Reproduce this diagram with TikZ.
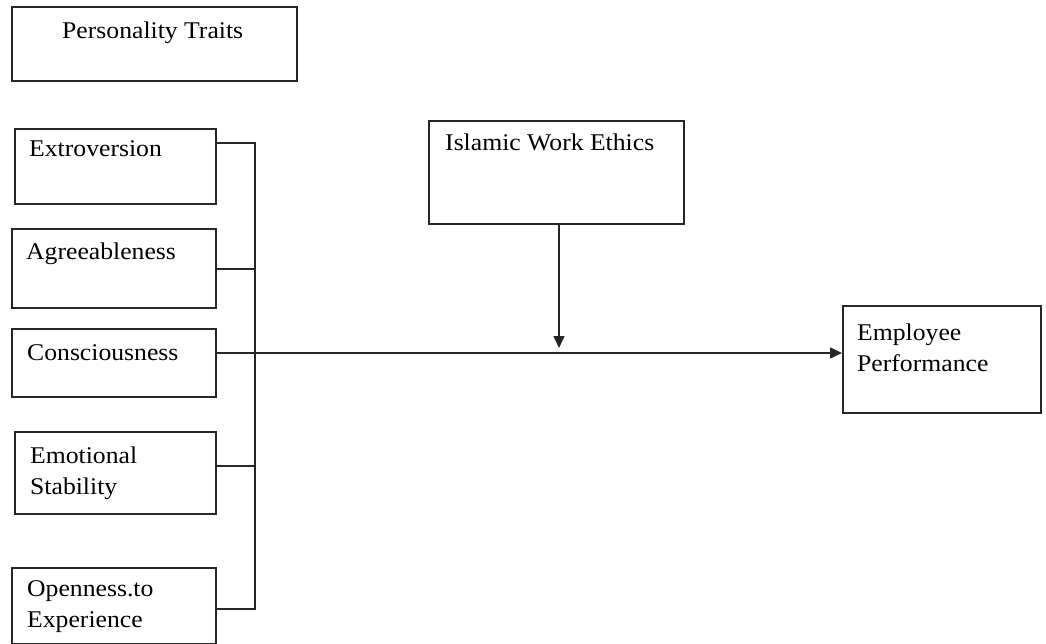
\documentclass[tikz,border=0pt]{standalone}
\usepackage{fontspec}
\setmainfont{Liberation Serif}[FakeStretch=1.07]
\usetikzlibrary{arrows.meta}
\begin{document}
\begin{tikzpicture}[x=1pt,y=-1pt,
  box/.style={draw=black!85,line width=1.6pt,rectangle,inner sep=0pt},
  lbl/.style={anchor=base west,inner sep=0pt,align=left,font=\fontsize{24}{31}\selectfont},
  wire/.style={draw=black!85,line width=1.5pt},
  arr/.style={wire,-{Triangle[length=12pt,width=11pt]}}]
\useasboundingbox (0,0) rectangle (1046,644);
% boxes
\node[box,minimum width=285pt,minimum height=74pt,anchor=north west] (pt) at (11,6) {};
\node[box,minimum width=201pt,minimum height=75pt,anchor=north west] (ex) at (14,128) {};
\node[box,minimum width=204pt,minimum height=79pt,anchor=north west] (ag) at (11,228) {};
\node[box,minimum width=204pt,minimum height=68pt,anchor=north west] (co) at (11,328) {};
\node[box,minimum width=201pt,minimum height=82pt,anchor=north west] (es) at (14,431) {};
\node[box,minimum width=204pt,minimum height=76pt,anchor=north west] (op) at (11,567) {};
\node[box,minimum width=255pt,minimum height=103pt,anchor=north west] (iwe) at (428,120) {};
\node[box,minimum width=198pt,minimum height=107pt,anchor=north west] (ep) at (842,305) {};
% labels
\node[lbl] (tpt) at (62,39) {Personality Traits};
\node[lbl] (tex) at (29,157) {Extroversion};
\node[lbl] (tag) at (26,260) {Agreeableness};
\node[lbl] (tco) at (27,360) {Consciousness};
\node[lbl] (tes) at (30,494) {Emotional\\Stability};
\node[lbl] (top) at (27,627) {Openness.to\\Experience};
\node[lbl] (tiwe) at (445,151) {Islamic Work Ethics};
\node[lbl] (tep) at (857,371) {Employee\\Performance};
% bus
\coordinate (bt) at (255,143);
\coordinate (bb) at (255,609);
\coordinate (mid) at (559,348);
\draw[wire] (ex.east |- bt) -- (bt) -- (bb) -- (op.east |- bb);
\draw[wire] (ag.east |- 0,269) -- (255,269);
\draw[wire] (es.east |- 0,466) -- (255,466);
\draw[arr] (co.east |- 0,353) -- (ep.west |- 0,353);
\draw[arr] (iwe.south -| mid) -- (mid);
\end{tikzpicture}
\end{document}
